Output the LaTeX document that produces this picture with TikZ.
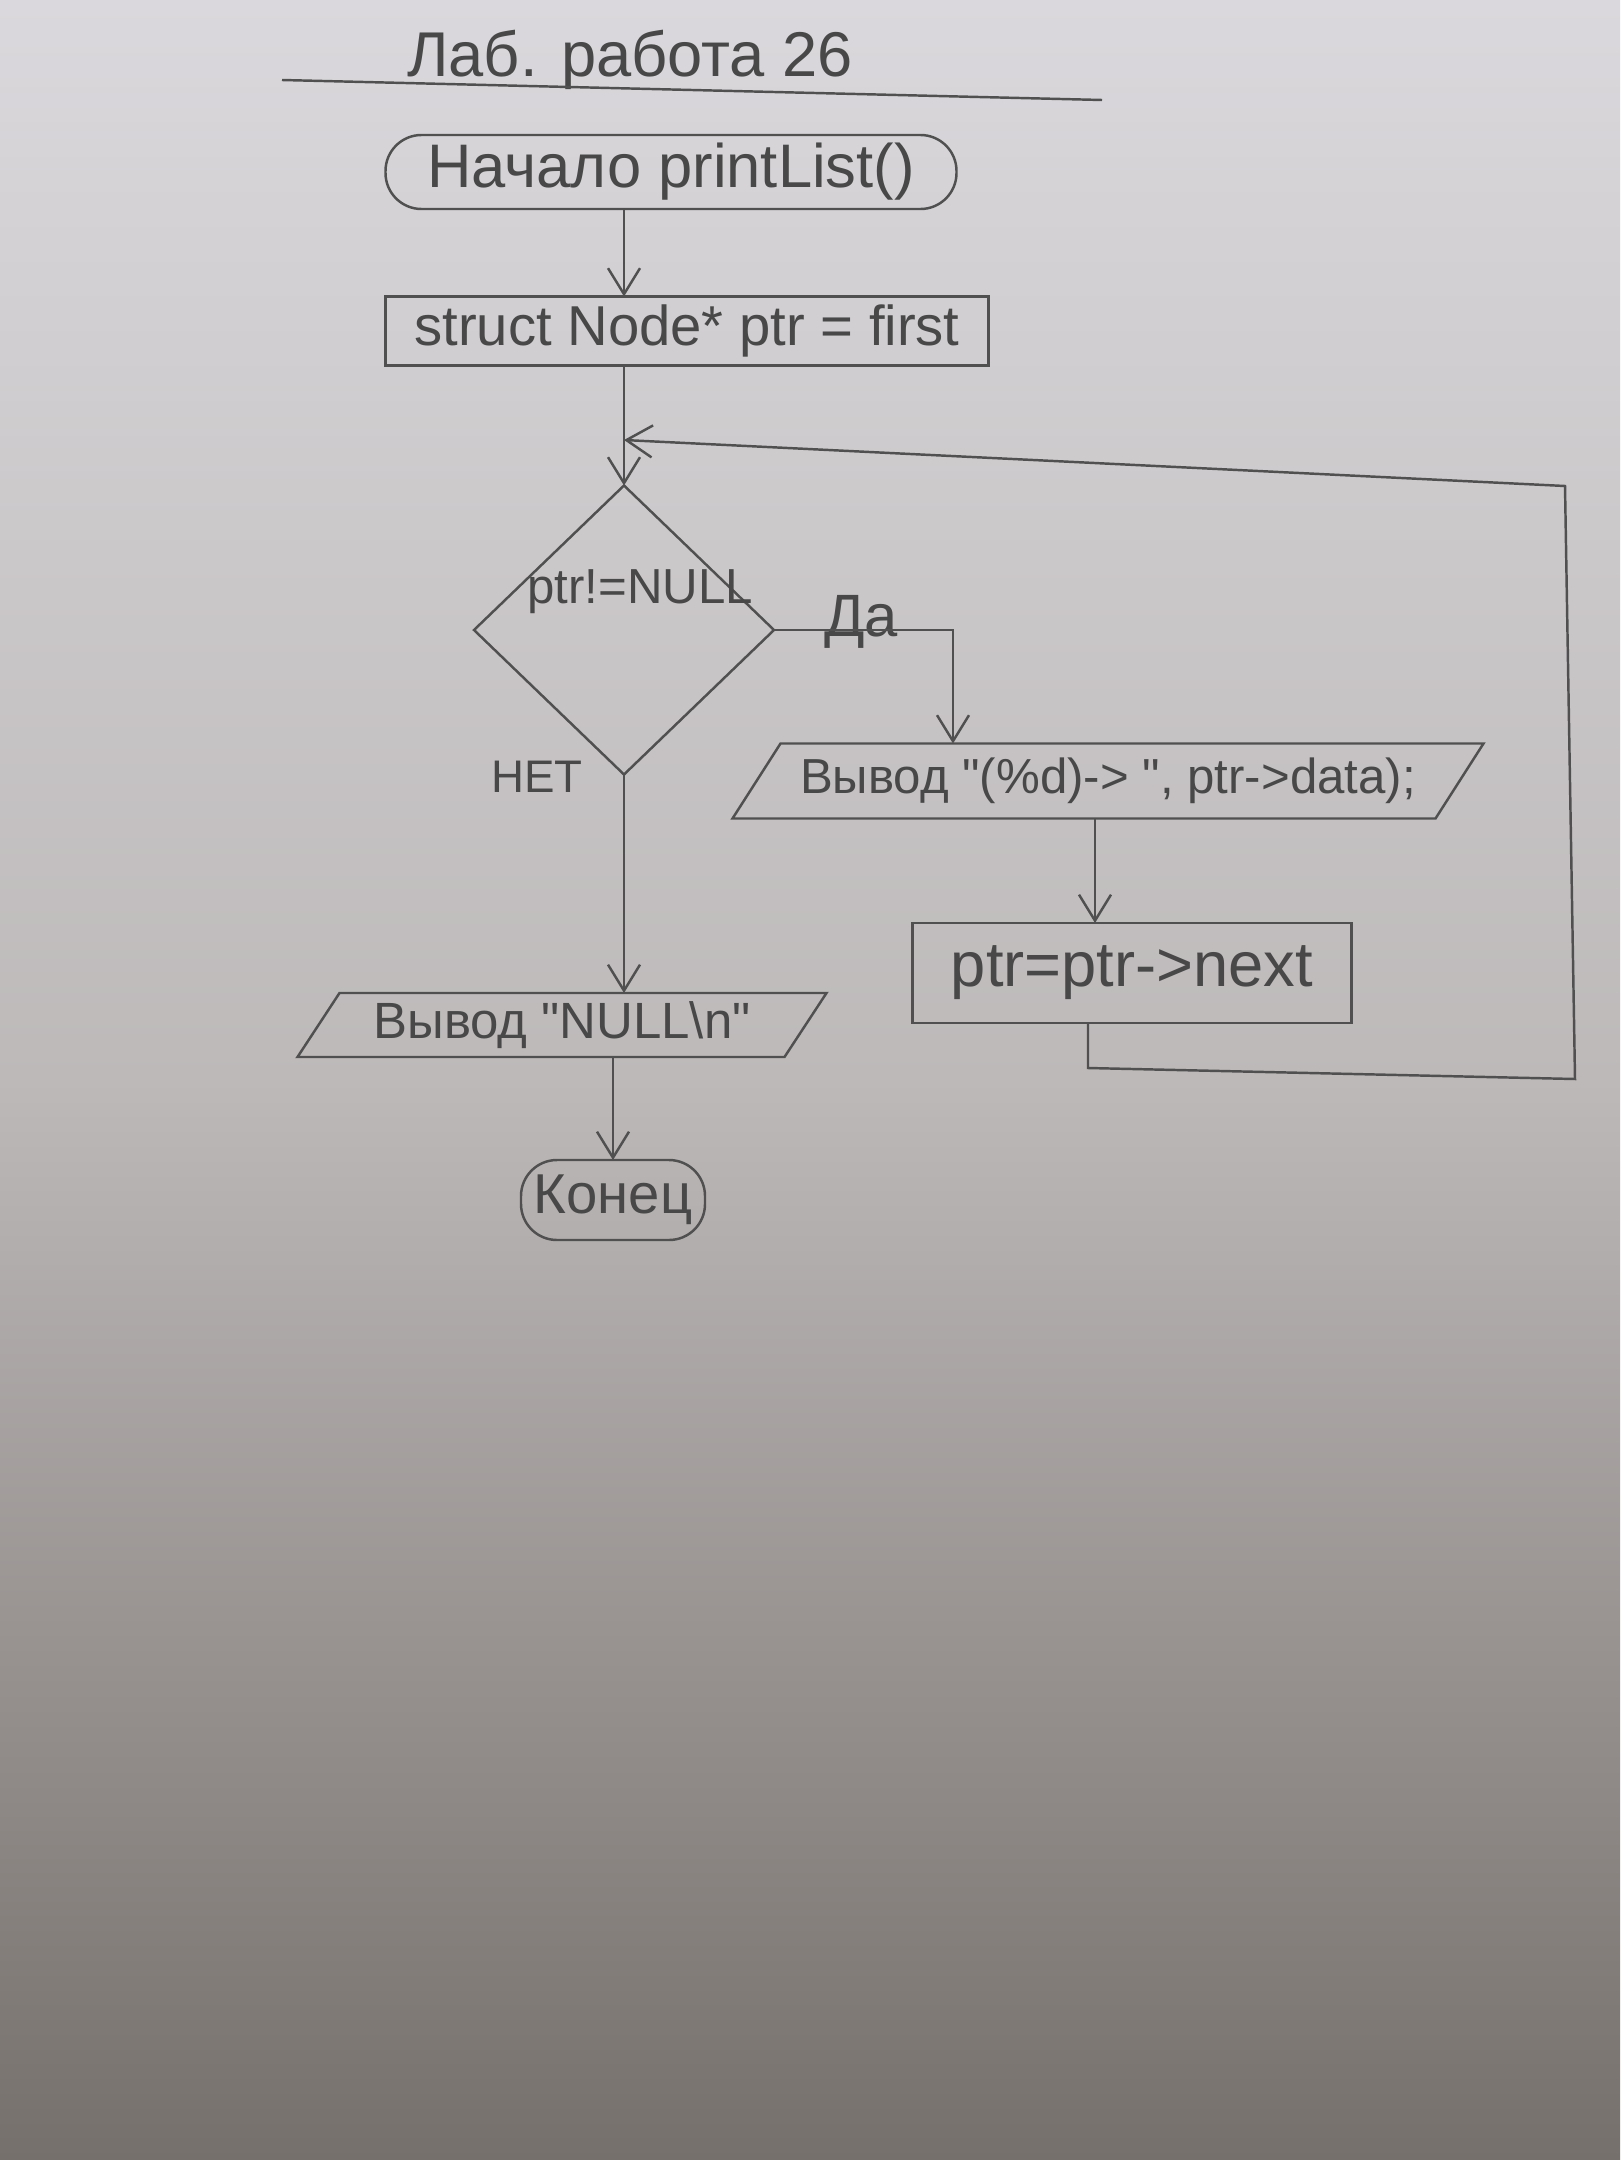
\documentclass[tikz,border=0pt]{standalone}
\usepackage{fontspec}
\setmainfont{Liberation Sans}[Ligatures=TeXOff]
\usetikzlibrary{shapes.geometric,arrows.meta,calc}
\definecolor{pencil}{HTML}{505050}
\definecolor{ink}{HTML}{484848}
\definecolor{papertop}{HTML}{DAD8DC}
\definecolor{papermid}{HTML}{BDB9B9}
\definecolor{paperbot}{HTML}{76706C}
\newcommand\dq{\symbol{34}}
\begin{document}
\begin{tikzpicture}[x=0.1mm,y=-0.1mm,
  pencil/.style={draw=pencil, line width=0.7pt},
  flow/.style={pencil, -{Straight Barb[length=2.6mm,width=3.2mm]}},
  txt/.style={text=ink, inner sep=0pt, font=\fontsize{#1}{#1}\selectfont},
  boxnode/.style={inner sep=0pt, outer sep=0pt},
  terminal/.style={rectangle, rounded corners=3.6mm, pencil, boxnode}]
% paper
\shade[top color=papertop, bottom color=paperbot, middle color=papermid] (0,0) rectangle (1620,2160);
\useasboundingbox (0,0) rectangle (1620,2160);

% title
\node[txt=18] (title) at (630,60) {Лаб. работа 26};
\coordinate (tl) at (282,80);
\coordinate (tr) at (1102,100);
\draw[pencil] (tl) -- (tr);

% start
\node[terminal, minimum width=57.1mm, minimum height=7.4mm, txt=17.5] (start) at (671,172) {Начало printList()};

% init
\node[rectangle, pencil, boxnode, minimum width=60.3mm, minimum height=6.9mm, txt=16] (init) at (687,331) {struct Node* ptr = first};

% decision
\node[diamond, pencil, boxnode, minimum width=30mm, minimum height=28.9mm] (cond) at (624,630) {};
\node[txt=14] (condtxt) at (640,592) {ptr!=NULL};
\node[txt=17] (yes) at (861,622) {Да};
\node[txt=13] (no) at (537,777) {НЕТ};

% output 1 (parallelogram)
\node[boxnode, minimum width=70.3mm, minimum height=7.5mm, txt=14] (out1) at (1108,781) {Вывод \dq(\%d)-> \dq, ptr->data);};
\draw[pencil] ([xshift=2.4mm]out1.north west) -- ([xshift=2.4mm]out1.north east)
  -- ([xshift=-2.4mm]out1.south east) -- ([xshift=-2.4mm]out1.south west) -- cycle;

% step
\node[rectangle, pencil, boxnode, minimum width=43.9mm, minimum height=10mm, txt=18] (step) at (1132,973) {ptr=ptr->next};

% output 2 (parallelogram)
\node[boxnode, minimum width=48.7mm, minimum height=6.4mm, txt=14.5] (out2) at (562,1025) {Вывод \dq NULL\textbackslash n\dq};
\draw[pencil] ([xshift=2.1mm]out2.north west) -- ([xshift=2.1mm]out2.north east)
  -- ([xshift=-2.1mm]out2.south east) -- ([xshift=-2.1mm]out2.south west) -- cycle;

% end
\node[terminal, minimum width=18.4mm, minimum height=8mm, txt=16] (end) at (613,1200) {Конец};

% connectors
\draw[flow] (cond.north |- start.south) -- (cond.north |- init.north);
\draw[flow] (cond.north |- init.south) -- (cond.north);
\coordinate (ya) at (953,0);
\draw[flow] (cond.east) -| (ya |- out1.north);
\coordinate (sx) at (1095,0);
\draw[flow] (sx |- out1.south) -- (sx |- step.north);
\coordinate (l0) at (1088,0);
\coordinate (l1) at (1088,1068);
\coordinate (l2) at (1575,1079);
\coordinate (l3) at (1565,486);
\coordinate (l4) at (624,440);
\draw[flow] (l0 |- step.south) -- (l1) -- (l2) -- (l3) -- (l4);
\draw[flow] (cond.south) -- (cond.south |- out2.north);
\draw[flow] (end.north |- out2.south) -- (end.north);
\end{tikzpicture}
\end{document}
